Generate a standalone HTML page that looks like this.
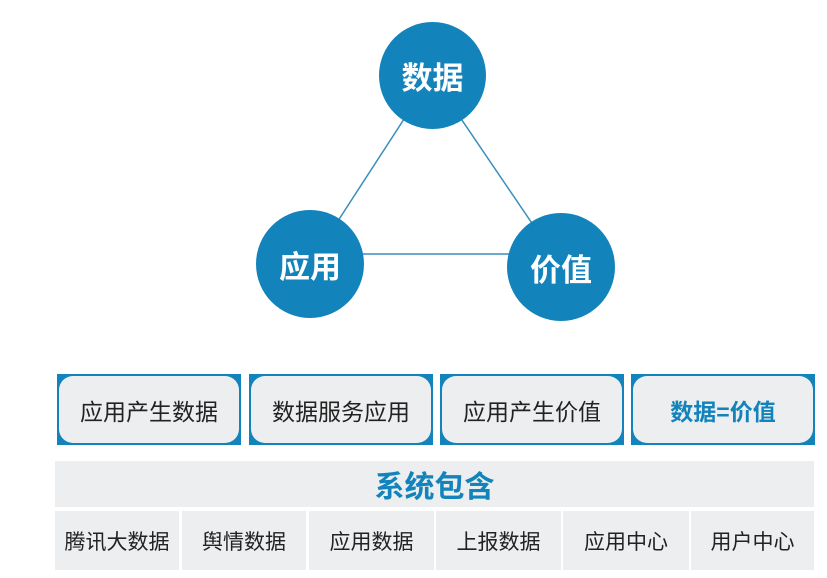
<!DOCTYPE html>
<html><head><meta charset="utf-8"><style>
body{margin:0;width:827px;height:578px;background:#fff;position:relative;overflow:hidden;font-family:"Liberation Sans","Noto Sans CJK SC",sans-serif}
.c{position:absolute;border-radius:50%;background:#1383bb;color:#fff;font-weight:bold;font-size:31px;display:flex;align-items:center;justify-content:center}
.b{position:absolute;top:374px;height:71px;width:184px;background:#1383bb}
.b div{position:absolute;left:2px;top:2px;right:2px;bottom:2px;background:#eceeef;border-radius:14px;display:flex;align-items:center;justify-content:center;font-size:23px;color:#222}
.r{position:absolute;top:511px;height:59px;background:#eceeef;display:flex;align-items:center;justify-content:center;font-size:21px;color:#222}
</style></head><body>
<svg width="827" height="578" style="position:absolute;left:0;top:0">
<line x1="432" y1="76" x2="310" y2="264" stroke="#3a8dbd" stroke-width="1.5"/>
<line x1="432" y1="76" x2="561" y2="266" stroke="#3a8dbd" stroke-width="1.5"/>
<line x1="310" y1="254" x2="561" y2="254" stroke="#3a8dbd" stroke-width="1.5"/>
</svg>
<div class="c" style="left:379px;top:22px;width:107px;height:107px">数据</div>
<div class="c" style="left:256px;top:210px;width:108px;height:108px">应用</div>
<div class="c" style="left:507px;top:213px;width:108px;height:108px">价值</div>
<div class="b" style="left:57px"><div>应用产生数据</div></div>
<div class="b" style="left:249px"><div>数据服务应用</div></div>
<div class="b" style="left:440px"><div>应用产生价值</div></div>
<div class="b" style="left:631px"><div style="color:#1383bb;font-weight:bold">数据=价值</div></div>
<div style="position:absolute;left:55px;top:461px;width:759px;height:46px;background:#eceeef;display:flex;align-items:center;justify-content:center;color:#1383bb;font-weight:bold;font-size:30px">系统包含</div>
<div class="r" style="left:55px;width:124px">腾讯大数据</div>
<div class="r" style="left:182px;width:124px">舆情数据</div>
<div class="r" style="left:309px;width:125px">应用数据</div>
<div class="r" style="left:436px;width:125px">上报数据</div>
<div class="r" style="left:563px;width:126px">应用中心</div>
<div class="r" style="left:691px;width:123px">用户中心</div>
</body></html>
